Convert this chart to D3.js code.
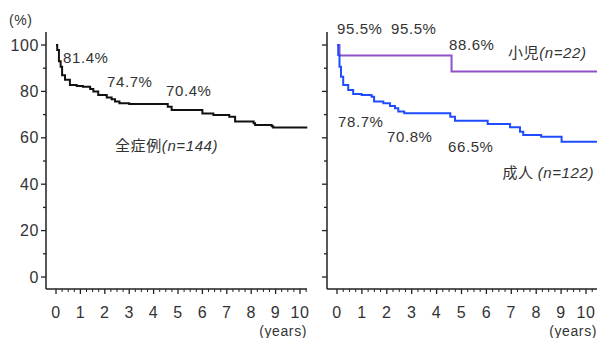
<!DOCTYPE html>
<html>
<head>
<meta charset="utf-8">
<script src="https://cdn.jsdelivr.net/npm/d3@7"></script>
<style>
body { margin: 0; background: #fff; }
svg text { font-family: "Liberation Sans", Arial, sans-serif; fill: #333; letter-spacing: 0.6px; }
.cjk { font-family: "Noto Sans CJK JP", sans-serif; }
</style>
</head>
<body>
<div id="main"></div>
<script>
var ctx = { w: 597, h: 338 };

// step curves: [years, %]
var allCases = [[0,100],[0.05,97.8],[0.12,93],[0.19,90.6],[0.25,87],[0.37,85],[0.57,82.8],[0.85,82.3],[1.1,82],[1.4,81],[1.53,80],[1.73,78.4],[2.08,77.4],[2.28,76.6],[2.42,75.6],[2.6,74.9],[3.0,74.6],[4.58,73.4],[4.74,72],[6.0,70.5],[6.45,69.8],[7.1,69.1],[7.34,67],[8.1,66.3],[8.16,65.5],[8.84,65],[8.9,64.4],[10.3,64.4]];
var children = [[0,100],[0.1,95.5],[4.6,88.6],[10.44,88.6]];
var adults = [[0,100],[0.05,95.7],[0.1,90.6],[0.16,86.3],[0.25,82.8],[0.45,80.6],[0.65,78.9],[0.99,78.4],[1.39,77.7],[1.49,75.6],[1.86,74.9],[2.13,73.7],[2.33,72.7],[2.46,71.3],[2.7,70.6],[4.55,69.1],[4.74,67.4],[6.05,66],[6.95,64.5],[7.35,62.6],[7.48,61.2],[8.2,60.5],[9.02,58.3],[10.44,58.3]];

var yTicks = [0, 20, 40, 60, 80, 100];
var xTicks = [0,1,2,3,4,5,6,7,8,9,10];

var svg = d3.select("#main").append("svg")
    .attr("width", ctx.w).attr("height", ctx.h);

var y = d3.scaleLinear().domain([0, 100]).range([277, 45]);

function drawPanel(x0, x10, axisRight, showYLabels) {
    var x = d3.scaleLinear().domain([0, 10]).range([x0, x10]);
    var g = svg.append("g");
    var axisX = x0 - 10;
    // y axis
    g.append("line").attr("x1", axisX).attr("x2", axisX).attr("y1", 32).attr("y2", 289)
        .attr("stroke", "#222").attr("stroke-width", 1.5);
    d3.range(0, 101, 10).forEach(function(v){
        var major = v % 20 === 0;
        g.append("line").attr("x1", axisX).attr("x2", axisX - (major ? 5 : 3))
            .attr("y1", y(v)).attr("y2", y(v)).attr("stroke", "#222").attr("stroke-width", 1.3);
    });
    if (showYLabels) {
        g.selectAll("text.yl").data(yTicks).enter().append("text")
            .attr("x", axisX - 7).attr("y", function(d){ return y(d) + 5.5; })
            .attr("text-anchor", "end").attr("font-size", 16).text(function(d){ return d; });
    }
    // x axis
    g.append("line").attr("x1", axisX).attr("x2", axisRight).attr("y1", 289).attr("y2", 289)
        .attr("stroke", "#222").attr("stroke-width", 1.5);
    d3.range(0, 10.3, 0.25).forEach(function(v){
        var major = Math.abs(v - Math.round(v)) < 1e-6;
        g.append("line").attr("x1", x(v)).attr("x2", x(v)).attr("y1", 289).attr("y2", 289 + (major ? 5 : 3))
            .attr("stroke", "#222").attr("stroke-width", major ? 1.3 : 1);
    });
    g.selectAll("text.xl").data(xTicks).enter().append("text")
        .attr("x", function(d){ return x(d); }).attr("y", 318)
        .attr("text-anchor", "middle").attr("font-size", 16).text(function(d){ return d; });
    g.append("text").attr("x", axisRight).attr("y", 336).attr("text-anchor", "end")
        .attr("font-size", 14).text("(years)");
    return x;
}

function drawCurve(x, data, color) {
    var line = d3.line().x(function(d){ return x(d[0]); }).y(function(d){ return y(d[1]); })
        .curve(d3.curveStepAfter);
    svg.append("path").datum(data).attr("d", line).attr("fill", "none")
        .attr("stroke", color).attr("stroke-width", 2);
}

function label(px, py, text, size) {
    return svg.append("text").attr("x", px).attr("y", py).attr("font-size", size || 15).text(text);
}

// left panel
var xL = drawPanel(56, 300, 307, true);
svg.append("text").attr("x", 9).attr("y", 25).attr("font-size", 14).text("(%)");
drawCurve(xL, allCases, "#111");
label(63, 63, "81.4%");
label(107, 87, "74.7%");
label(166, 96, "70.4%");
var t1 = svg.append("text").attr("x", 115).attr("y", 151).attr("font-size", 15);
t1.append("tspan").attr("class", "cjk").text("全症例");
t1.append("tspan").attr("font-style", "italic").text("(n=144)");

// right panel
var xR = drawPanel(337, 586, 597, false);
drawCurve(xR, children, "#9050c8");
drawCurve(xR, adults, "#1f4cff");
label(337, 34, "95.5%");
label(391, 34, "95.5%");
label(449, 50, "88.6%");
var t2 = svg.append("text").attr("x", 508).attr("y", 58).attr("font-size", 15);
t2.append("tspan").attr("class", "cjk").text("小児");
t2.append("tspan").attr("font-style", "italic").text("(n=22)");
label(338, 127, "78.7%");
label(387, 142, "70.8%");
label(448, 152, "66.5%");
var t3 = svg.append("text").attr("x", 594).attr("y", 178).attr("font-size", 15).attr("text-anchor", "end");
t3.append("tspan").attr("class", "cjk").text("成人 ");
t3.append("tspan").attr("font-style", "italic").text("(n=122)");
</script>
</body>
</html>
